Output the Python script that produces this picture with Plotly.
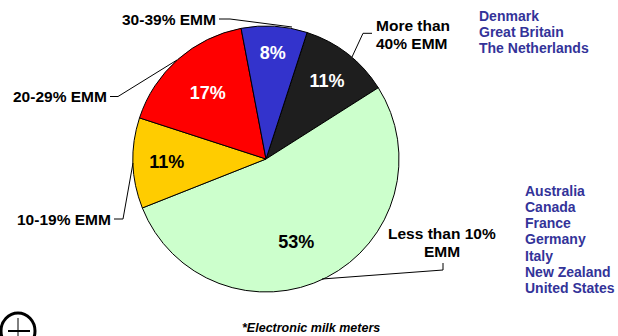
import plotly.graph_objects as go

# ---- data ----
categories = ["More than 40% EMM", "Less than 10% EMM", "10-19% EMM", "20-29% EMM", "30-39% EMM"]
shares = [11, 53, 11, 17, 8]
slice_colors = ["#1e1e1e", "#ccffcc", "#ffcc00", "#ff0000", "#3333cc"]
text_colors = ["white", "black", "black", "white", "white"]

group_high = ["Denmark", "Great Britain", "The Netherlands"]
group_low = ["Australia", "Canada", "France", "Germany", "Italy", "New Zealand", "United States"]
footnote = "*Electronic milk meters"

W, H = 618, 336
FONT = "Liberation Sans, Arial, sans-serif"
BLUE = "#333399"

# green slice label sits lower in the reference
templates = ["%{percent:.0%}", "&nbsp;<br>&nbsp;<br>%{percent:.0%}", "%{percent:.0%}",
             "%{percent:.0%}", "%{percent:.0%}"]

fig = go.Figure()

# pie (pixel box: x 133..399, y 26..292)
fig.add_trace(go.Pie(
    labels=categories, values=shares, sort=False, direction="clockwise", rotation=18,
    marker=dict(colors=slice_colors, line=dict(color="black", width=1)),
    texttemplate=templates, textposition="inside",
    insidetextorientation="horizontal",
    textfont=dict(family=FONT, size=18, color=text_colors, weight="bold"),
    domain=dict(x=[133 / W, 399 / W], y=[1 - 292 / H, 1 - 26 / H]),
    hoverinfo="label+percent", showlegend=False,
))

# invisible pixel-space axes for labels / leader lines
fig.add_trace(go.Scatter(x=[0, W], y=[0, H], mode="markers", marker=dict(opacity=0),
                         hoverinfo="skip", showlegend=False))

ann = []
def label(text, x, y, xanchor, size=15.5, color="black", italic=False):
    ann.append(dict(text=text, x=x, y=y, xref="x", yref="y", showarrow=False,
                    xanchor=xanchor, yanchor="middle",
                    font=dict(family=FONT, size=size, color=color,
                              weight="bold", style="italic" if italic else "normal")))

label("30-39% EMM", 218, 19, "right")
label("20-29% EMM", 109, 96.5, "right")
label("10-19% EMM", 113, 219, "right")
label("More than", 374, 25.5, "left")
label("40% EMM", 374, 43.5, "left")
label("Less than 10%", 441.5, 233.5, "center")
label("EMM", 442, 251.5, "center")

for i, c in enumerate(group_high):
    label(c, 477, 15.5 + i * 16.2, "left", size=14, color=BLUE)
for i, c in enumerate(group_low):
    label(c, 523, 190.5 + i * 16.3, "left", size=14, color=BLUE)

label(footnote, 311, 327.5, "center", size=12.5, italic=True)

leaders = [
    "M 219,19 L 230,19 L 292,27",
    "M 110,96.5 L 118,96.5 L 177,60",
    "M 114,219 L 123,219 L 133,163",
    "M 372,33.3 L 363,33.3 L 352,57",
    "M 443,263 L 443,270 L 322,279",
]
shapes = [dict(type="path", path=p, xref="x", yref="y", line=dict(color="black", width=1))
          for p in leaders]
# small logo at bottom-left
shapes.append(dict(type="circle", xref="x", yref="y", x0=1, x1=35, y0=313, y1=349,
                   line=dict(color="black", width=3), fillcolor="white"))
shapes.append(dict(type="line", xref="x", yref="y", x0=8, x1=30, y0=331, y1=331,
                   line=dict(color="black", width=2)))
shapes.append(dict(type="line", xref="x", yref="y", x0=18, x1=18, y0=318, y1=336,
                   line=dict(color="black", width=1)))

fig.update_layout(
    width=W, height=H, margin=dict(l=0, r=0, t=0, b=0),
    paper_bgcolor="white", plot_bgcolor="rgba(0,0,0,0)",
    xaxis=dict(range=[0, W], visible=False, fixedrange=True),
    yaxis=dict(range=[H, 0], visible=False, fixedrange=True),
    annotations=ann, shapes=shapes, showlegend=False,
)

fig.write_html("out.html")
